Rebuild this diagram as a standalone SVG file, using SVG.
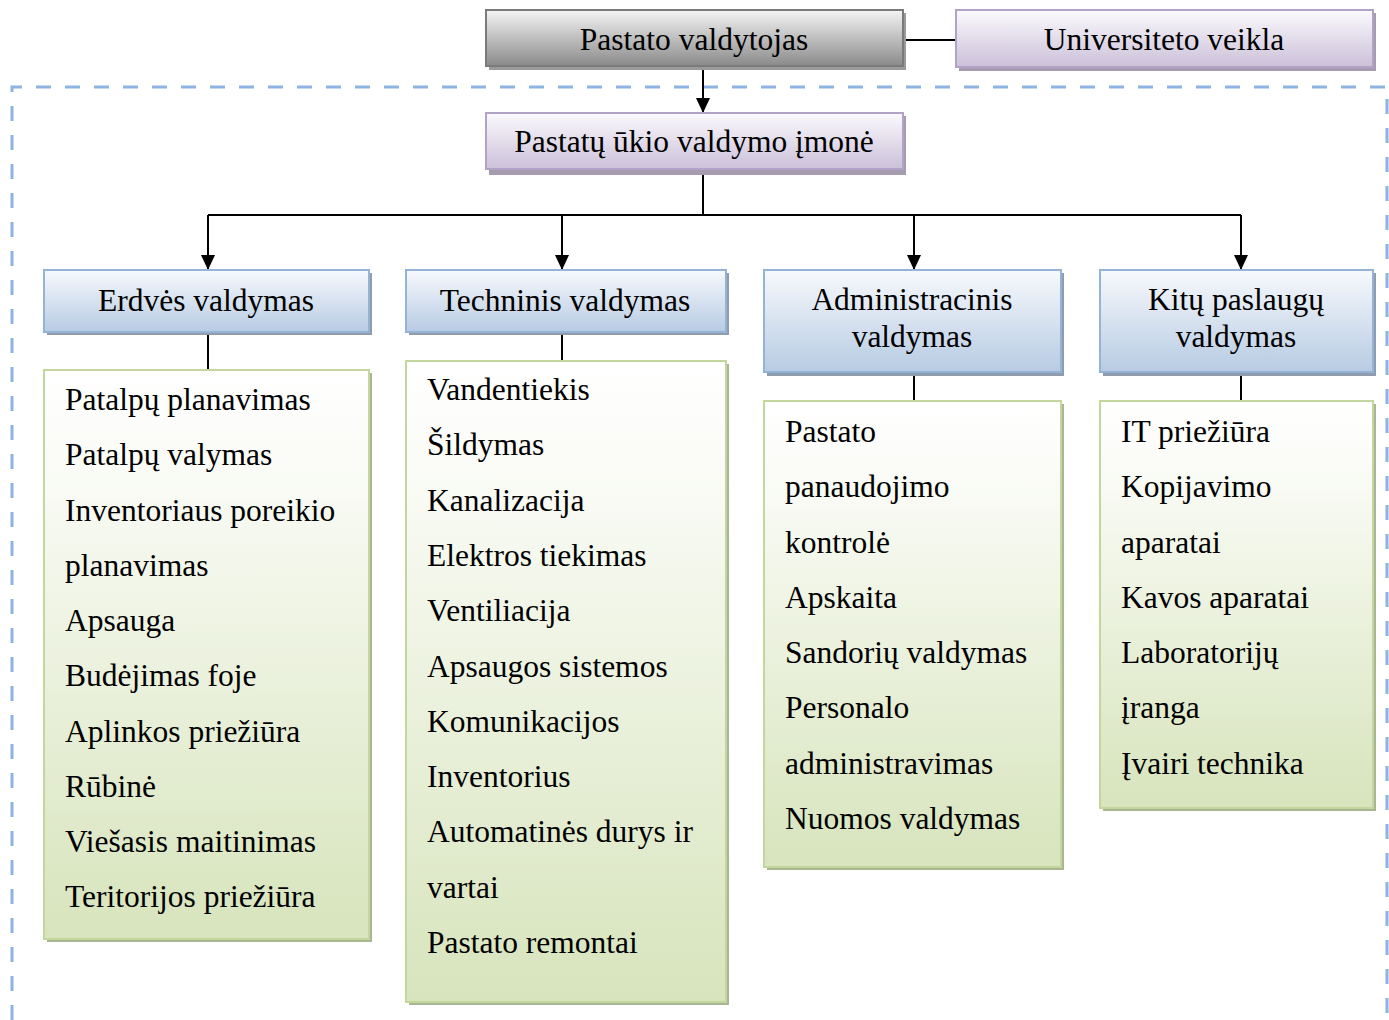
<svg xmlns="http://www.w3.org/2000/svg" width="1389" height="1020" viewBox="0 0 1389 1020">
  <defs>
    <linearGradient id="gGray" x1="0" y1="0" x2="0" y2="1">
      <stop offset="0" stop-color="#f4f4f4"/>
      <stop offset="1" stop-color="#8a8a8a"/>
    </linearGradient>
    <linearGradient id="gPurple" x1="0" y1="0" x2="0" y2="1">
      <stop offset="0" stop-color="#fbfafd"/>
      <stop offset="1" stop-color="#cbc0d9"/>
    </linearGradient>
    <linearGradient id="gBlue" x1="0" y1="0" x2="0" y2="1">
      <stop offset="0" stop-color="#f7f9fc"/>
      <stop offset="1" stop-color="#b7cbe3"/>
    </linearGradient>
    <linearGradient id="gGreen" x1="0" y1="0" x2="0" y2="1">
      <stop offset="0" stop-color="#ffffff"/>
      <stop offset="0.15" stop-color="#fbfcf8"/>
      <stop offset="1" stop-color="#d7e4bc"/>
    </linearGradient>
    <marker id="arrow" viewBox="0 0 15 14" refX="15" refY="7" markerWidth="15" markerHeight="14" markerUnits="userSpaceOnUse" orient="auto">
      <path d="M0,0 L15,7 L0,14 Z" fill="#000"/>
    </marker>
  </defs>
  <style>
    text { font-family: "Liberation Serif", "Times New Roman", serif; font-size: 31.5px; fill: #000; }
    .c { text-anchor: middle; }
    .gray { fill: url(#gGray); stroke: #7a7a7a; stroke-width: 2; }
    .purple { fill: url(#gPurple); stroke: #b3a2c7; stroke-width: 2; }
    .blue { fill: url(#gBlue); stroke: #95b3d7; stroke-width: 2; }
    .green { fill: url(#gGreen); stroke: #c3d69b; stroke-width: 2; }
    .sh-gray { fill: #9a9a9a; }
    .sh-purple { fill: #a59cae; }
    .sh-blue { fill: #8e9cae; }
    .sh-green { fill: #a9b696; }
    .link { fill: none; stroke: #000; stroke-width: 2; }
    .zone { fill: none; stroke: #8db3e2; stroke-width: 3; stroke-dasharray: 15 14; }
  </style>

  <!-- dashed boundary of the management company -->
  <path class="zone" d="M12,1020 V87 H1387 V1020"/>

  <!-- connectors -->
  <g id="connectors">
    <line class="link" x1="903" y1="40" x2="956" y2="40"/>
    <line class="link" x1="703" y1="67" x2="703" y2="113" marker-end="url(#arrow)"/>
    <polyline class="link" points="703,173 703,215"/>
    <line class="link" x1="208" y1="215" x2="1241" y2="215"/>
    <line class="link" x1="208" y1="215" x2="208" y2="270" marker-end="url(#arrow)"/>
    <line class="link" x1="562" y1="215" x2="562" y2="270" marker-end="url(#arrow)"/>
    <line class="link" x1="914" y1="215" x2="914" y2="270" marker-end="url(#arrow)"/>
    <line class="link" x1="1241" y1="215" x2="1241" y2="270" marker-end="url(#arrow)"/>
    <line class="link" x1="208" y1="332" x2="208" y2="370"/>
    <line class="link" x1="562" y1="332" x2="562" y2="360"/>
    <line class="link" x1="914" y1="372" x2="914" y2="401"/>
    <line class="link" x1="1241" y1="372" x2="1241" y2="401"/>
  </g>

  <!-- top level -->
  <g id="pastato-valdytojas">
    <rect class="sh-gray" x="489" y="13" width="417" height="57"/>
    <rect class="gray" x="486" y="10" width="417" height="56"/>
    <text class="c" x="694" y="50">Pastato valdytojas</text>
  </g>
  <g id="universiteto-veikla">
    <rect class="sh-purple" x="959" y="13" width="417" height="58"/>
    <rect class="purple" x="956" y="10" width="417" height="57"/>
    <text class="c" x="1164" y="50">Universiteto veikla</text>
  </g>
  <g id="imone">
    <rect class="sh-purple" x="489" y="116" width="417" height="59"/>
    <rect class="purple" x="486" y="113" width="417" height="56"/>
    <text class="c" x="694" y="152">Pastatų ūkio valdymo įmonė</text>
  </g>

  <!-- departments -->
  <g id="erdves">
    <rect class="sh-blue" x="47" y="273" width="325" height="62"/>
    <rect class="blue" x="44" y="270" width="325" height="62"/>
    <text class="c" x="206" y="311">Erdvės valdymas</text>
  </g>
  <g id="techninis">
    <rect class="sh-blue" x="409" y="273" width="320" height="62"/>
    <rect class="blue" x="406" y="270" width="320" height="62"/>
    <text class="c" x="565" y="311">Techninis valdymas</text>
  </g>
  <g id="administracinis">
    <rect class="sh-blue" x="767" y="273" width="297" height="103"/>
    <rect class="blue" x="764" y="270" width="297" height="102"/>
    <text class="c" x="912" y="310">Administracinis</text>
    <text class="c" x="912" y="347">valdymas</text>
  </g>
  <g id="kitu">
    <rect class="sh-blue" x="1103" y="273" width="273" height="103"/>
    <rect class="blue" x="1100" y="270" width="273" height="102"/>
    <text class="c" x="1236" y="310">Kitų paslaugų</text>
    <text class="c" x="1236" y="347">valdymas</text>
  </g>

  <!-- task lists -->
  <g id="erdves-list">
    <rect class="sh-green" x="47" y="373" width="325" height="569"/>
    <rect class="green" x="44" y="370" width="325" height="569"/>
    <text x="65" y="410">Patalpų planavimas</text>
    <text x="65" y="465">Patalpų valymas</text>
    <text x="65" y="520.5">Inventoriaus poreikio</text>
    <text x="65" y="575.5">planavimas</text>
    <text x="65" y="631">Apsauga</text>
    <text x="65" y="686">Budėjimas foje</text>
    <text x="65" y="741.5">Aplinkos priežiūra</text>
    <text x="65" y="796.5">Rūbinė</text>
    <text x="65" y="852">Viešasis maitinimas</text>
    <text x="65" y="907">Teritorijos priežiūra</text>
  </g>
  <g id="techninis-list">
    <rect class="sh-green" x="409" y="364" width="320" height="641"/>
    <rect class="green" x="406" y="361" width="320" height="641"/>
    <text x="427" y="400">Vandentiekis</text>
    <text x="427" y="455">Šildymas</text>
    <text x="427" y="510.5">Kanalizacija</text>
    <text x="427" y="566">Elektros tiekimas</text>
    <text x="427" y="621">Ventiliacija</text>
    <text x="427" y="676.5">Apsaugos sistemos</text>
    <text x="427" y="731.5">Komunikacijos</text>
    <text x="427" y="787">Inventorius</text>
    <text x="427" y="842">Automatinės durys ir</text>
    <text x="427" y="897.5">vartai</text>
    <text x="427" y="953">Pastato remontai</text>
  </g>
  <g id="administracinis-list">
    <rect class="sh-green" x="767" y="404" width="297" height="466"/>
    <rect class="green" x="764" y="401" width="297" height="466"/>
    <text x="785" y="442">Pastato</text>
    <text x="785" y="497">panaudojimo</text>
    <text x="785" y="552.5">kontrolė</text>
    <text x="785" y="607.5">Apskaita</text>
    <text x="785" y="663">Sandorių valdymas</text>
    <text x="785" y="718">Personalo</text>
    <text x="785" y="773.5">administravimas</text>
    <text x="785" y="829">Nuomos valdymas</text>
  </g>
  <g id="kitu-list">
    <rect class="sh-green" x="1103" y="404" width="273" height="407"/>
    <rect class="green" x="1100" y="401" width="273" height="407"/>
    <text x="1121" y="442">IT priežiūra</text>
    <text x="1121" y="497">Kopijavimo</text>
    <text x="1121" y="552.5">aparatai</text>
    <text x="1121" y="607.5">Kavos aparatai</text>
    <text x="1121" y="663">Laboratorijų</text>
    <text x="1121" y="718">įranga</text>
    <text x="1121" y="773.5">Įvairi technika</text>
  </g>
</svg>
